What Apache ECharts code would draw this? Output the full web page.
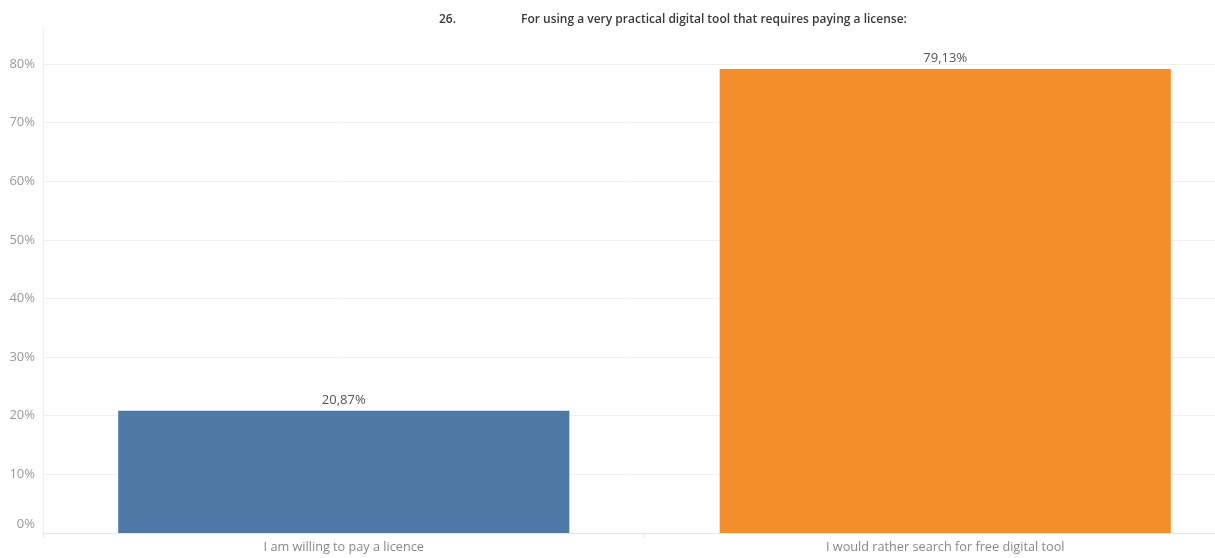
<!DOCTYPE html>
<html>
<head>
<meta charset="utf-8">
<script src="https://cdn.jsdelivr.net/npm/echarts@6/dist/echarts.min.js"></script>
<style>
  html, body { margin: 0; padding: 0; background: #fff; }
  #chart { width: 1215px; height: 558px; }
</style>
</head>
<body>
<div id="chart"></div>
<script>
// question and answers
const questionNo = '26.';
const questionText = 'For using a very practical digital tool that requires paying a license:';
const categories = ['I am willing to pay a licence', 'I would rather search for free digital tool'];
const shares = [20.87, 79.13];
const barColors = ['#4e79a7', '#f28e2b'];

const chart = echarts.init(document.getElementById('chart'), null, { renderer: 'canvas' });

const font = '"Open Sans", "Noto Sans", sans-serif';

const option = {
  animation: false,
  backgroundColor: '#fff',
  textStyle: { fontFamily: font },
  title: [
    {
      text: questionNo,
      left: 434,
      top: 9,
      textStyle: { fontSize: 12, fontWeight: 600, color: '#3a3a3a', fontFamily: font }
    },
    {
      text: questionText,
      left: 516,
      top: 9,
      textStyle: { fontSize: 12, fontWeight: 600, color: '#3a3a3a', fontFamily: font }
    }
  ],
  grid: { left: 43, top: 27, width: 1203, bottom: 25, outerBoundsMode: 'none', containLabel: false },
  xAxis: {
    type: 'category',
    data: categories,
    axisLine: { show: true, lineStyle: { color: '#e6e6e6' } },
    axisTick: { show: true, length: 5, lineStyle: { color: '#e6e6e6' } },
    axisLabel: { color: '#888', fontSize: 12.7, margin: 8, fontFamily: font }
  },
  yAxis: {
    type: 'value',
    min: 0,
    max: 86.3,
    interval: 10,
    axisLine: { show: true, lineStyle: { color: '#f0f0f0' } },
    axisTick: { show: false },
    axisLabel: {
      color: '#999',
      fontSize: 13,
      margin: 8,
      showMaxLabel: false,
      fontFamily: font,
      formatter: (v) => {
        if (v % 10 !== 0) return '';
        // Tableau nudges the zero label above the baseline
        return v === 0 ? '{zero|0%}' : v + '%';
      },
      rich: {
        zero: { color: '#999', fontSize: 13, fontFamily: font, padding: [0, 0, 18, 0] }
      }
    },
    splitLine: {
      show: true,
      lineStyle: {
        color: ['#f0f0f0', '#f0f0f0', '#f0f0f0', '#f0f0f0', '#f0f0f0',
                '#f0f0f0', '#f0f0f0', '#f0f0f0', '#f0f0f0', 'rgba(0,0,0,0)']
      }
    }
  },
  series: [
    {
      type: 'bar',
      barCategoryGap: '25%',
      data: shares.map((v, i) => ({ value: v, itemStyle: { color: barColors[i] } })),
      label: {
        show: true,
        position: 'top',
        distance: 4,
        color: '#555',
        fontSize: 13,
        fontFamily: font,
        formatter: (p) => p.value.toFixed(2).replace('.', ',') + '%'
      }
    }
  ]
};

chart.setOption(option);
</script>
</body>
</html>
